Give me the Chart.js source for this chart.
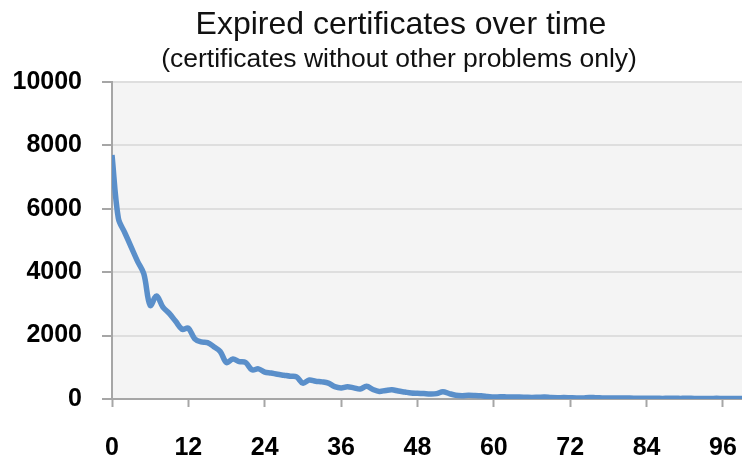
<!DOCTYPE html>
<html>
<head>
<meta charset="utf-8">
<script src="https://cdn.jsdelivr.net/npm/chart.js@4.4.1/dist/chart.umd.min.js"></script>
<style>
  body { margin: 0; background: #ffffff; }
  #chart { display: block; }
</style>
</head>
<body>
<canvas id="chart" width="742" height="460"></canvas>
<script>
// months since expiry
var months = [];
for (var m = 0; m <= 99; m++) months.push(m);

// expired certificates
var expired = [
  7700, 5700, 5250, 4800, 4350, 3950, 2950, 3250, 2900, 2700,
  2450, 2200, 2230, 1900, 1800, 1780, 1650, 1500, 1150, 1260,
  1180, 1150, 920, 950, 850, 820, 780, 750, 720, 700,
  500, 600, 560, 540, 500, 390, 350, 385, 350, 315,
  400, 300, 240, 270, 290, 250, 220, 190, 180, 170,
  160, 170, 230, 170, 120, 105, 115, 110, 100, 80,
  60, 70, 65, 60, 60, 55, 50, 55, 60, 45,
  40, 45, 40, 35, 35, 50, 40, 35, 30, 30,
  35, 30, 25, 25, 20, 25, 20, 20, 25, 20,
  20, 20, 18, 18, 15, 20, 15, 15, 15, 15
];

var xTicks = [0, 12, 24, 36, 48, 60, 72, 84, 96];
var yTicks = [0, 2000, 4000, 6000, 8000, 10000];

var titleText = "Expired certificates over time";
var subtitleText = "(certificates without other problems only)";

var tickFont = { family: "'Liberation Sans', Arial, sans-serif", size: 25, weight: "bold" };

// grey plot background + the two title lines
var decorations = {
  id: "decorations",
  beforeDraw: function (chart) {
    var a = chart.chartArea;
    var ctx = chart.ctx;
    ctx.save();
    ctx.fillStyle = "#f4f4f4";
    ctx.fillRect(a.left, a.top, a.right - a.left, a.bottom - a.top);
    ctx.restore();
  },
  afterDraw: function (chart) {
    var ctx = chart.ctx;
    ctx.save();
    ctx.fillStyle = "#111111";
    ctx.textAlign = "center";
    ctx.textBaseline = "alphabetic";
    ctx.font = "32px 'Liberation Sans', Arial, sans-serif";
    ctx.fillText(titleText, 401, 34);
    ctx.font = "26.5px 'Liberation Sans', Arial, sans-serif";
    ctx.fillText(subtitleText, 399, 67);
    ctx.restore();
  }
};

var ctx = document.getElementById("chart").getContext("2d");
var myChart = new Chart(ctx, {
  type: "line",
  data: {
    labels: months,
    datasets: [{
      data: months.map(function (m, i) { return { x: m, y: expired[i] }; }),
      borderColor: "#5a8fca",
      borderWidth: 5.5,
      pointRadius: 0,
      tension: 0.35,
      fill: false
    }]
  },
  options: {
    responsive: false,
    animation: false,
    layout: { padding: { top: 82, left: 14, right: 0, bottom: 0 } },
    plugins: {
      legend: { display: false },
      tooltip: { enabled: false }
    },
    scales: {
      x: {
        type: "linear",
        min: 0,
        max: 99,
        afterBuildTicks: function (axis) {
          axis.ticks = xTicks.map(function (v) { return { value: v }; });
        },
        afterFit: function (axis) {
          axis.height = 61;
          axis.paddingRight = 0;
        },
        grid: {
          drawOnChartArea: false,
          drawTicks: true,
          tickLength: 8,
          tickColor: "#a6a6a6",
          tickWidth: 2
        },
        border: { color: "#a6a6a6", width: 2 },
        ticks: {
          padding: 26,
          maxRotation: 0,
          color: "#000000",
          font: tickFont,
          callback: function (v) { return String(v); }
        }
      },
      y: {
        min: 0,
        max: 10000,
        afterBuildTicks: function (axis) {
          axis.ticks = yTicks.map(function (v) { return { value: v }; });
        },
        afterFit: function (axis) {
          axis.width = 98;
        },
        grid: {
          color: "#dedede",
          lineWidth: 2,
          tickLength: 10,
          tickColor: "#a6a6a6",
          tickWidth: 2
        },
        border: { color: "#a6a6a6", width: 2 },
        ticks: {
          padding: 20,
          color: "#000000",
          font: tickFont,
          callback: function (v) { return String(v); }
        }
      }
    }
  },
  plugins: [decorations]
});
</script>
</body>
</html>
